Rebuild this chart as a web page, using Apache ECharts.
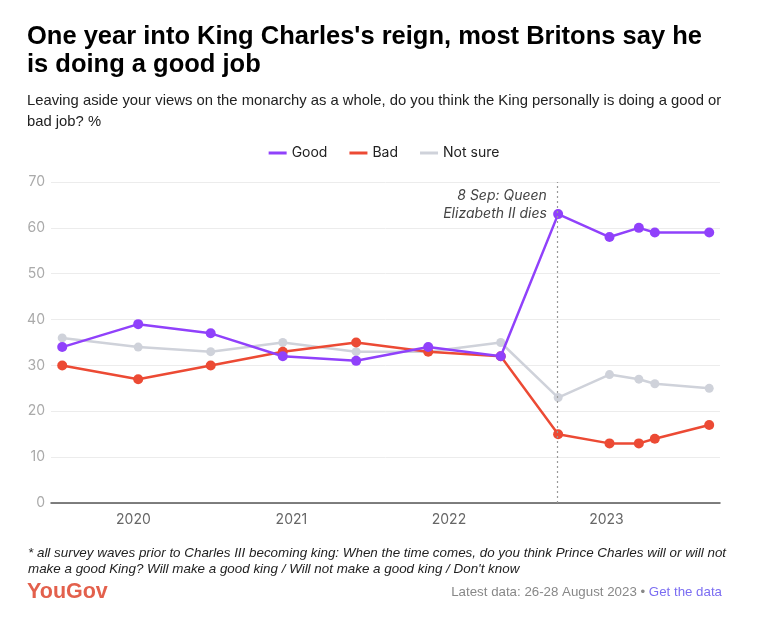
<!DOCTYPE html>
<html>
<head>
<meta charset="utf-8">
<script src="https://cdn.jsdelivr.net/npm/echarts@6/dist/echarts.min.js"></script>
<style>html,body{margin:0;padding:0;background:#fff}#c{width:768px;height:636px}</style>
</head>
<body>
<div id="c"></div>
<script>
var dates = ['2019-07-20','2020-01-12','2020-06-28','2020-12-12','2021-05-31','2021-11-14','2022-05-01','2022-09-11','2023-01-08','2023-03-17','2023-04-23','2023-08-27'];
var good = [34,39,37,32,31,34,32,63,58,60,59,59];
var bad = [30,27,30,33,35,33,32,15,13,13,14,17];
var notSure = [36,34,33,35,33,33,35,23,28,27,26,25];
var yearTicks = ['2020-01-01','2021-01-01','2022-01-01','2023-01-01'];
var eventDate = '2022-09-08';
var eventLabel = '8 Sep: Queen\nElizabeth II dies';
var xRange = ['2019-06-24','2023-09-21'];

var titleL1 = "One year into King Charles's reign, most Britons say he";
var titleL2 = 'is doing a good job';
var subL1 = 'Leaving aside your views on the monarchy as a whole, do you think the King personally is doing a good or';
var subL2 = 'bad job? %';
var noteL1 = '* all survey waves prior to Charles III becoming king: When the time comes, do you think Prince Charles will or will not';
var noteL2 = "make a good King? Will make a good king / Will not make a good king / Don't know";
var srcA = 'Latest data: 26-28 August 2023 • ';
var srcB = 'Get the data';
var logo = 'YouGov';

var FONT = '"Liberation Sans", Arial, sans-serif';
var ctx = document.createElement('canvas').getContext('2d');
function fit(text, style, weight, target){
  ctx.font = style + ' ' + weight + ' 100px ' + FONT;
  return Math.round(100 * target / ctx.measureText(text).width * 10) / 10;
}
var titleSize = fit(titleL1, 'normal', 'bold', 675);
var subSize = fit(subL1, 'normal', 'normal', 693);
var noteSize = fit(noteL1, 'italic', 'normal', 696);
var srcSize = fit(srcA + srcB, 'normal', 'normal', 270);
var logoSize = fit(logo, 'normal', 'bold', 81);

function ts(s){ var p = s.split('-'); return new Date(+p[0], +p[1]-1, +p[2]).getTime(); }
function pairs(vals){ return dates.map(function(d,i){ return [ts(d), vals[i]]; }); }

var chart = echarts.init(document.getElementById('c'), null, {renderer:'canvas'});
var option = {
  animation: false,
  backgroundColor: '#fff',
  title: [
    {text: titleL1 + '\n' + titleL2, left: 22, top: 18,
     textStyle: {fontFamily: FONT, fontWeight: 'bold', fontSize: titleSize, lineHeight: 28, color: '#000'}},
    {text: subL1 + '\n' + subL2, left: 22, top: 85,
     textStyle: {fontFamily: FONT, fontWeight: 'normal', fontSize: subSize, lineHeight: 21, color: '#222'}},
    {text: noteL1 + '\n' + noteL2, left: 23, top: 540,
     textStyle: {fontFamily: FONT, fontStyle: 'italic', fontWeight: 'normal', fontSize: noteSize, lineHeight: 16, color: '#222'}},
    {text: logo, left: 22, top: 592 - logoSize / 2 - 5,
     textStyle: {fontFamily: FONT, fontWeight: 'bold', fontSize: logoSize, lineHeight: logoSize, color: '#e3604c'}},
    {text: '{a|' + srcA + '}{b|' + srcB + '}', right: 41, top: 580,
     textStyle: {rich: {a: {fontFamily: FONT, fontWeight: 'normal', fontSize: srcSize, lineHeight: 14, color: '#888'},
                        b: {fontFamily: FONT, fontWeight: 'normal', fontSize: srcSize, lineHeight: 14, color: '#7b6df2'}}}}
  ],
  legend: {
    top: 141, left: 'center', icon: 'rect', itemWidth: 18, itemHeight: 3, itemGap: 22,
    data: ['Good','Bad','Not sure'],
    textStyle: {fontFamily: 'Inter, Roboto, sans-serif', fontSize: 14, color: '#222'}
  },
  grid: {left: 51, right: 48, top: 182, bottom: 133, containLabel: false},
  xAxis: {
    type: 'value', min: ts(xRange[0]), max: ts(xRange[1]),
    axisLine: {show: true, lineStyle: {color: '#555', width: 1.5}},
    axisTick: {show: false},
    splitLine: {show: false},
    axisLabel: {customValues: yearTicks.map(ts), formatter: function(v){ return String(new Date(v).getFullYear()); },
      color: '#666', fontSize: 14, margin: 10, fontFamily: 'Inter, Roboto, sans-serif'}
  },
  yAxis: {
    type: 'value', min: 0, max: 70, interval: 10,
    axisLine: {show: false}, axisTick: {show: false},
    axisLabel: {color: '#aaa', fontSize: 14, margin: 6, fontFamily: 'Inter, Roboto, sans-serif'},
    splitLine: {lineStyle: {color: '#ececec', width: 1}}
  },
  series: [
    {name: 'Not sure', type: 'line', data: pairs(notSure), symbol: 'circle', symbolSize: 9,
     itemStyle: {color: '#cfd2da'}, lineStyle: {color: '#cfd2da', width: 2.5}, z: 2,
     markLine: {silent: true, symbol: 'none', label: {show: false},
       lineStyle: {type: [2, 3], color: '#999', width: 1.2}, data: [{xAxis: ts(eventDate)}]}},
    {name: 'Bad', type: 'line', data: pairs(bad), symbol: 'circle', symbolSize: 10,
     itemStyle: {color: '#ec4a34'}, lineStyle: {color: '#ec4a34', width: 2.5}, z: 3},
    {name: 'Good', type: 'line', data: pairs(good), symbol: 'circle', symbolSize: 10,
     itemStyle: {color: '#9041fb'}, lineStyle: {color: '#9041fb', width: 2.5}, z: 4}
  ]
};
chart.setOption(option);
var px = chart.convertToPixel({gridIndex: 0}, [ts(eventDate), 70]);
chart.setOption({graphic: [{type: 'text', x: px[0] - 10, y: px[1] + 5,
  style: {text: eventLabel, align: 'right', verticalAlign: 'top', fontFamily: 'Inter, Roboto, sans-serif', fontStyle: 'italic', fontSize: 14, lineHeight: 18, fill: '#444'}}]});
</script>
</body>
</html>
